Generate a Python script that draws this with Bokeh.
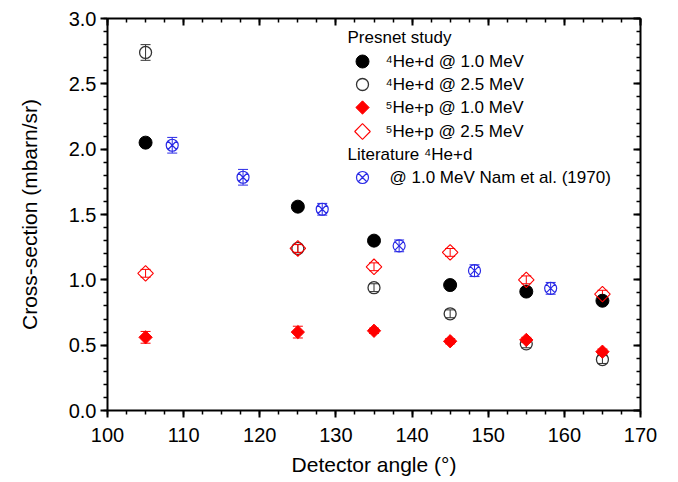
from bokeh.plotting import figure
from bokeh.models import (ColumnDataSource, Range1d, LinearAxis, SingleIntervalTicker,
                          NumeralTickFormatter, CustomJSTickFormatter, Whisker, TeeHead)
from bokeh.core.properties import value
from bokeh.embed import file_html
from bokeh.resources import INLINE
import numpy as np

# ---- data ----
angles = [105, 125, 135, 145, 155, 165]
he4d_10 = [2.05, 1.56, 1.30, 0.96, 0.91, 0.84]
he4d_10_err = [0.03, 0.03, 0.03, 0.03, 0.03, 0.03]
he4d_25 = [2.74, 1.24, 0.94, 0.74, 0.51, 0.39]
he4d_25_err = [0.06, 0.03, 0.03, 0.03, 0.03, 0.03]
he5p_10 = [0.56, 0.60, 0.61, 0.53, 0.54, 0.45]
he5p_10_err = [0.045, 0.045, 0.02, 0.02, 0.02, 0.02]
he5p_25 = [1.05, 1.24, 1.10, 1.21, 1.00, 0.89]
he5p_25_err = [0.03, 0.03, 0.03, 0.03, 0.03, 0.03]
nam_angles = [108.5, 117.8, 128.2, 138.3, 148.2, 158.2]
nam_vals = [2.03, 1.785, 1.54, 1.26, 1.07, 0.935]
nam_err = [0.06, 0.06, 0.045, 0.045, 0.045, 0.045]

legend_head1 = "Presnet study"
legend_labels1 = ["⁴He+d @ 1.0 MeV", "⁴He+d @ 2.5 MeV", "⁵He+p @ 1.0 MeV", "⁵He+p @ 2.5 MeV"]
legend_head2 = "Literature ⁴He+d"
legend_label2 = "@ 1.0 MeV Nam et al. (1970)"

FONT = "Liberation Sans"
BLUE = "#2a2ae6"
RED = "#ff0000"
GREY = "#333333"

X0, X1, Y0, Y1 = 100, 170, 0, 3
W, H = 678, 482
ML, MR, MT, MB = 107, 38, 18, 72

p = figure(width=W, height=H, output_backend="svg", toolbar_location=None,
           x_range=Range1d(X0, X1), y_range=Range1d(Y0, Y1),
           min_border_left=ML, min_border_right=MR, min_border_top=MT, min_border_bottom=MB,
           x_axis_type=None, y_axis_type=None)
p.grid.visible = False
p.outline_line_color = None
p.background_fill_color = "white"
p.border_fill_color = "white"

# pixel -> data helpers (for legend layout only)
FW, FH = W - ML - MR, H - MT - MB
def px2x(px):
    return X0 + (px - ML) / FW * (X1 - X0)
def py2y(py):
    return Y0 + (MT + FH - py) / FH * (Y1 - Y0)

def make_axis(ticker, label, outer, fmt):
    ax = LinearAxis(ticker=ticker, formatter=fmt)
    ax.axis_line_width = 2
    ax.major_tick_line_width = 2
    ax.minor_tick_line_width = 1.5
    if outer:
        ax.major_tick_out, ax.major_tick_in = 7, 0
        ax.minor_tick_out, ax.minor_tick_in = 4, 0
    else:
        ax.major_tick_out, ax.major_tick_in = 0, 7
        ax.minor_tick_out, ax.minor_tick_in = 0, 4
    ax.major_label_text_font = FONT
    ax.major_label_text_font_size = "20px"
    ax.major_label_text_color = "black"
    if label:
        ax.axis_label = label
        ax.axis_label_text_font = FONT
        ax.axis_label_text_font_size = "21px"
        ax.axis_label_text_font_style = "normal"
        ax.axis_label_text_color = "black"
    return ax

xt = SingleIntervalTicker(interval=10, num_minor_ticks=4)
yt = SingleIntervalTicker(interval=0.5, num_minor_ticks=5)
blank = CustomJSTickFormatter(code="return ''")

xb = make_axis(xt, "Detector angle (°)", True, NumeralTickFormatter(format="0"))
xb.major_label_standoff = 10
xb.axis_label_standoff = 8
yl = make_axis(yt, "Cross-section (mbarn/sr)", True, NumeralTickFormatter(format="0.0"))
yl.major_label_standoff = 4
yl.axis_label_standoff = 25
xa = make_axis(xt, None, False, blank)
yr = make_axis(yt, None, False, blank)
p.add_layout(xb, "below")
p.add_layout(yl, "left")
p.add_layout(xa, "above")
p.add_layout(yr, "right")

def errbars(xs, ys, es, color):
    src = ColumnDataSource(dict(x=xs, lo=[y - e for y, e in zip(ys, es)],
                                hi=[y + e for y, e in zip(ys, es)]))
    w = Whisker(source=src, base="x", lower="lo", upper="hi", line_color=color, line_width=1,
                lower_head=TeeHead(size=10, line_color=color, line_width=1),
                upper_head=TeeHead(size=10, line_color=color, line_width=1))
    p.add_layout(w)

errbars(angles, he4d_10, he4d_10_err, "black")
errbars(angles, he4d_25, he4d_25_err, GREY)
errbars(angles, he5p_10, he5p_10_err, RED)
errbars(angles, he5p_25, he5p_25_err, RED)
errbars(nam_angles, nam_vals, nam_err, BLUE)

styles = [
    dict(marker="circle", size=13, fill_color="black", line_color="black"),
    dict(marker="circle", size=12, fill_color=None, line_color=GREY, line_width=1.3),
    dict(marker="square", angle=np.pi / 4, size=9.4, fill_color=RED, line_color=RED, line_width=1),
    dict(marker="square", angle=np.pi / 4, size=11, fill_color=None, line_color=RED, line_width=1.1),
    dict(marker="circle_x", size=12, fill_color=None, line_color=BLUE, line_width=1.2),
]
series = [he4d_10, he4d_25, he5p_10, he5p_25]
for ys, st in zip(series, styles[:4]):
    p.scatter(angles, ys, **st)
p.scatter(nam_angles, nam_vals, **styles[4])

# ---- manual legend (layout in pixels) ----
HEAD_X, MARK_X, TEXT_X = 347, 362, 385
rows1 = [61, 84, 107, 131]
head1_y, head2_y, row2_y = 37, 154, 177
txt = dict(text_font=value(FONT), text_font_size="17px", text_color="black",
           text_baseline="middle", text_align="left")
p.text(x=[px2x(HEAD_X)], y=[py2y(head1_y)], text=[legend_head1], **txt)
for ry, lab, st in zip(rows1, legend_labels1, styles[:4]):
    p.scatter([px2x(MARK_X)], [py2y(ry)], **st)
    p.text(x=[px2x(TEXT_X)], y=[py2y(ry)], text=[lab], **txt)
p.text(x=[px2x(HEAD_X)], y=[py2y(head2_y)], text=[legend_head2], **txt)
p.scatter([px2x(MARK_X)], [py2y(row2_y)], **styles[4])
p.text(x=[px2x(TEXT_X + 4)], y=[py2y(row2_y)], text=[legend_label2], **txt)

open("out.html", "w").write(file_html(p, INLINE))
